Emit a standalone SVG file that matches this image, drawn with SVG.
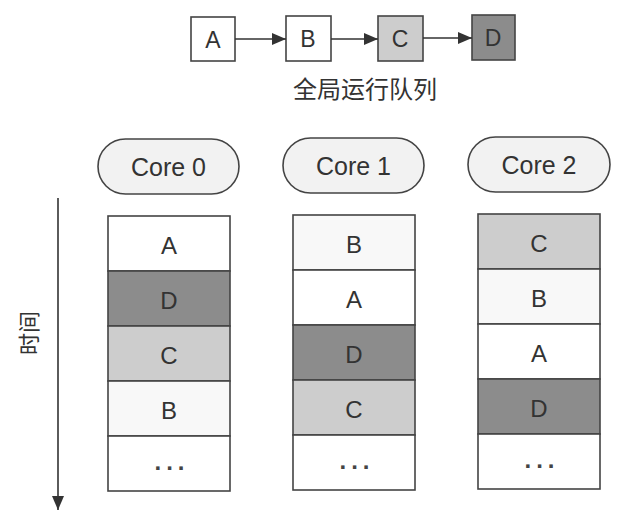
<svg xmlns="http://www.w3.org/2000/svg" width="632" height="524" viewBox="0 0 632 524">
<defs>
<marker id="ah" markerWidth="14" markerHeight="12" refX="14" refY="6" orient="auto" markerUnits="userSpaceOnUse">
<path d="M0,0 L14,6 L0,12 Z" fill="#333"/>
</marker>
<marker id="ahv" markerWidth="14" markerHeight="12" refX="14" refY="6" orient="auto" markerUnits="userSpaceOnUse">
<path d="M0,0 L14,6 L0,12 Z" fill="#333"/>
</marker>
</defs>
<style>
.box{stroke:#444;stroke-width:1.6}
.w{fill:#ffffff}
.b{fill:#f8f8f8}
.c{fill:#cdcdcd}
.d{fill:#8c8c8c}
.pill{fill:#f2f2f2;stroke:#444;stroke-width:1.6}
.t{font-family:"Liberation Sans",Arial,sans-serif;font-size:24px;fill:#333;text-anchor:middle}
.q{font-family:"Liberation Sans",Arial,sans-serif;font-size:23px;fill:#333;text-anchor:middle}
.core{font-family:"Liberation Sans",Arial,sans-serif;font-size:25px;fill:#333;text-anchor:middle}
.dots{font-family:"Liberation Sans",Arial,sans-serif;font-size:24px;font-weight:bold;fill:#444;text-anchor:middle;letter-spacing:5px}
.cjk{font-family:"Noto Sans CJK SC","Noto Sans",sans-serif;font-size:24px;fill:#333;text-anchor:middle}
.cjkv{font-family:"Noto Sans CJK SC","Noto Sans",sans-serif;font-size:22px;fill:#333;text-anchor:middle}
.ln{stroke:#333;stroke-width:1.6;fill:none}
</style>
<rect width="632" height="524" fill="#ffffff"/>

<g id="queue">
<g id="qA"><rect class="box w" x="191" y="17" width="44" height="44"/><text class="q" x="213" y="48">A</text></g>
<g id="qB"><rect class="box w" x="286" y="16" width="45" height="45"/><text class="q" x="308" y="47">B</text></g>
<g id="qC"><rect class="box c" x="378" y="16" width="45" height="45"/><text class="q" x="400" y="47">C</text></g>
<g id="qD"><rect class="box d" x="472" y="15" width="43" height="45"/><text class="q" x="493" y="46">D</text></g>
<text id="qtitle" class="cjk" x="365" y="98">全局运行队列</text>
</g>

<g id="connectors">
<line class="ln" x1="235" y1="39" x2="286" y2="39" marker-end="url(#ah)"/>
<line class="ln" x1="331" y1="39" x2="378" y2="39" marker-end="url(#ah)"/>
<line class="ln" x1="423" y1="38" x2="472" y2="38" marker-end="url(#ah)"/>
<line class="ln" x1="58" y1="198" x2="58" y2="510" marker-end="url(#ahv)"/>
</g>

<text id="time" class="cjkv" transform="translate(37,333) rotate(-90)" x="0" y="0">时间</text>

<g id="core0">
<rect class="pill" x="98" y="139" width="141" height="55" rx="27.5"/>
<text class="core" x="168.5" y="176">Core 0</text>
</g>
<g id="core1">
<rect class="pill" x="283" y="138" width="141" height="55" rx="27.5"/>
<text class="core" x="353.5" y="175">Core 1</text>
</g>
<g id="core2">
<rect class="pill" x="468" y="137" width="142" height="55" rx="27.5"/>
<text class="core" x="539" y="174">Core 2</text>
</g>

<g id="col0">
<rect class="box w" x="108" y="216" width="122" height="55"/><text class="t" x="169" y="254">A</text>
<rect class="box d" x="108" y="271" width="122" height="55"/><text class="t" x="169" y="309">D</text>
<rect class="box c" x="108" y="326" width="122" height="55"/><text class="t" x="169" y="364">C</text>
<rect class="box b" x="108" y="381" width="122" height="55"/><text class="t" x="169" y="419">B</text>
<rect class="box w" x="108" y="436" width="122" height="55"/><text class="dots" x="172" y="470">...</text>
</g>

<g id="col1">
<rect class="box b" x="293" y="215" width="122" height="55"/><text class="t" x="354" y="253">B</text>
<rect class="box w" x="293" y="270" width="122" height="55"/><text class="t" x="354" y="308">A</text>
<rect class="box d" x="293" y="325" width="122" height="55"/><text class="t" x="354" y="363">D</text>
<rect class="box c" x="293" y="380" width="122" height="55"/><text class="t" x="354" y="418">C</text>
<rect class="box w" x="293" y="435" width="122" height="55"/><text class="dots" x="357" y="469">...</text>
</g>

<g id="col2">
<rect class="box c" x="478" y="214" width="122" height="55"/><text class="t" x="539" y="252">C</text>
<rect class="box b" x="478" y="269" width="122" height="55"/><text class="t" x="539" y="307">B</text>
<rect class="box w" x="478" y="324" width="122" height="55"/><text class="t" x="539" y="362">A</text>
<rect class="box d" x="478" y="379" width="122" height="55"/><text class="t" x="539" y="417">D</text>
<rect class="box w" x="478" y="434" width="122" height="55"/><text class="dots" x="542" y="468">...</text>
</g>
</svg>
